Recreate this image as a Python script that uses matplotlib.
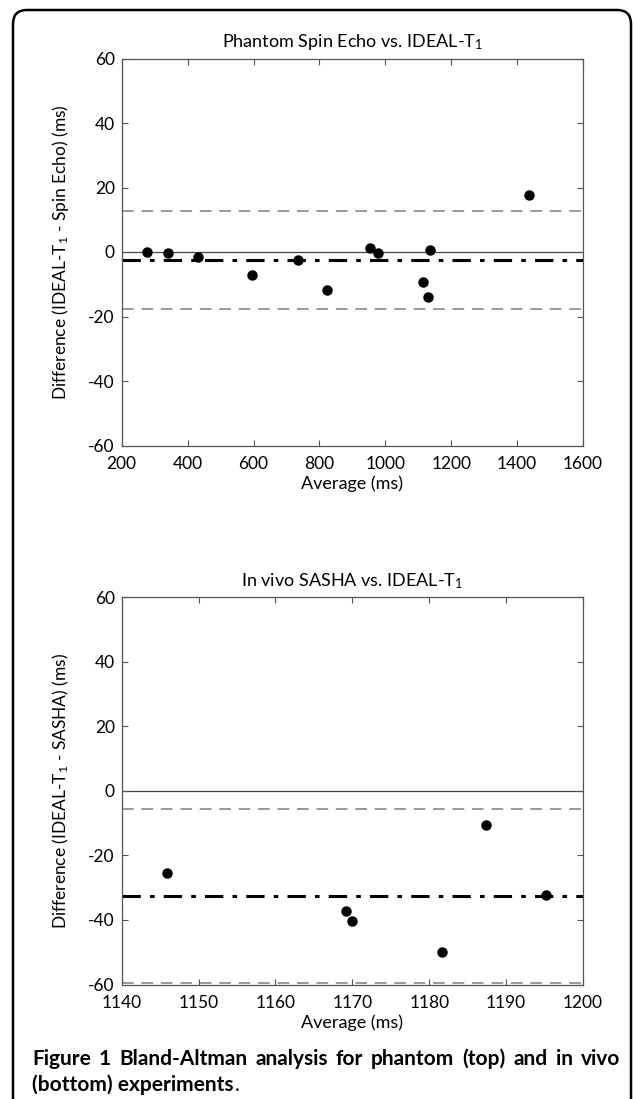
import matplotlib
matplotlib.use("Agg")
import matplotlib.pyplot as plt
from matplotlib.patches import FancyBboxPatch

plt.rcParams["font.family"] = ["Lato", "DejaVu Sans"]
plt.rcParams["mathtext.fontset"] = "custom"
plt.rcParams["mathtext.rm"] = "Lato"
plt.rcParams["mathtext.it"] = "Lato"
plt.rcParams["axes.unicode_minus"] = False

W, H = 633, 1099

# phantom: spin echo vs IDEAL-T1
phantom_avg = [278, 340, 432, 595, 734, 822, 954, 977, 1113, 1130, 1136, 1436]
phantom_diff = [-0.1, -0.4, -1.4, -7.0, -2.6, -11.8, 1.2, -0.2, -9.4, -14.1, 0.7, 17.7]
phantom_mean = -2.4
phantom_loa = [12.8, -17.8]

# in vivo: SASHA vs IDEAL-T1
vivo_avg = [1145.9, 1169.2, 1169.9, 1181.6, 1187.4, 1195.2]
vivo_diff = [-25.5, -37.3, -40.3, -49.9, -10.6, -32.3]
vivo_mean = -32.6
vivo_loa = [-5.5, -59.6]

caption_line1 = "Figure 1 Bland-Altman analysis for phantom (top) and in vivo"
caption_line2 = "(bottom) experiments"

spine_col = "#555555"


def bland_altman(ax, avg, diff, mean, loa, xlim, xticks, title, ylabel):
    ax.axhline(0, color="#444444", lw=0.9, zorder=1)
    for v in loa:
        ax.axhline(v, color="#999999", lw=1.4, ls=(0, (6, 4)), zorder=1)
    ax.axhline(mean, color="black", lw=2.2, ls=(0, (6, 3, 1.5, 3)), zorder=2)
    ax.plot(avg, diff, "o", color="black", ms=6.5, zorder=3)
    ax.set_xlim(*xlim)
    ax.set_ylim(-60, 60)
    ax.set_xticks(xticks)
    ax.set_yticks(range(-60, 61, 20))
    ax.tick_params(direction="in", top=True, right=True, length=4,
                   color=spine_col, labelsize=12.5, pad=5)
    ax.tick_params(axis="x", pad=7.5)
    for s in ax.spines.values():
        s.set_color(spine_col)
        s.set_linewidth(0.9)
    ax.set_title(title, fontsize=13, pad=8)
    ax.set_xlabel("Average (ms)", fontsize=13, labelpad=2.5)
    ax.set_ylabel(ylabel, fontsize=12.5, labelpad=12)


fig = plt.figure(figsize=(W / 100, H / 100), dpi=100)

ax1 = fig.add_axes([121.7 / W, 1 - 445.5 / H, 461.3 / W, 387 / H])
bland_altman(ax1, phantom_avg, phantom_diff, phantom_mean, phantom_loa,
             (200, 1600), range(200, 1601, 200),
             r"Phantom Spin Echo vs. IDEAL-T$_1$",
             r"Difference (IDEAL-T$_1$ - Spin Echo) (ms)")

ax2 = fig.add_axes([121.7 / W, 1 - 984.5 / H, 461.3 / W, 387.5 / H])
bland_altman(ax2, vivo_avg, vivo_diff, vivo_mean, vivo_loa,
             (1140, 1200), range(1140, 1201, 10),
             r"In vivo SASHA vs. IDEAL-T$_1$",
             r"Difference (IDEAL-T$_1$ - SASHA) (ms)")

# rounded frame, open at the bottom edge of the page
frame = FancyBboxPatch((13 / W, -0.05), 618 / W, 1.05 - 10 / H,
                       boxstyle="round,pad=0,rounding_size=0.022",
                       transform=fig.transFigure, fill=False,
                       ec="black", lw=1.8, mutation_aspect=W / H)
fig.patches.append(frame)

# justified first caption line
cap_size = 15
cap_kw = dict(fontsize=cap_size, fontweight="bold", va="center", ha="left")
renderer = fig.canvas.get_renderer()
x0, x1 = 32, 620
y1 = 1 - 1059 / H
words = caption_line1.split()
arts = [fig.text(0, y1, w, **cap_kw) for w in words]
widths = [a.get_window_extent(renderer).width for a in arts]
gap = (x1 - x0 - sum(widths)) / (len(words) - 1)
x = x0
for a, w in zip(arts, widths):
    a.set_x(x / W)
    x += w + gap

y2 = 1 - 1085 / H
t2 = fig.text(x0 / W, y2, caption_line2, **cap_kw)
w2 = t2.get_window_extent(renderer).width
fig.text((x0 + w2 + 1) / W, y2, ".", fontsize=cap_size, va="center", ha="left")

fig.savefig("out.png", dpi=100)
